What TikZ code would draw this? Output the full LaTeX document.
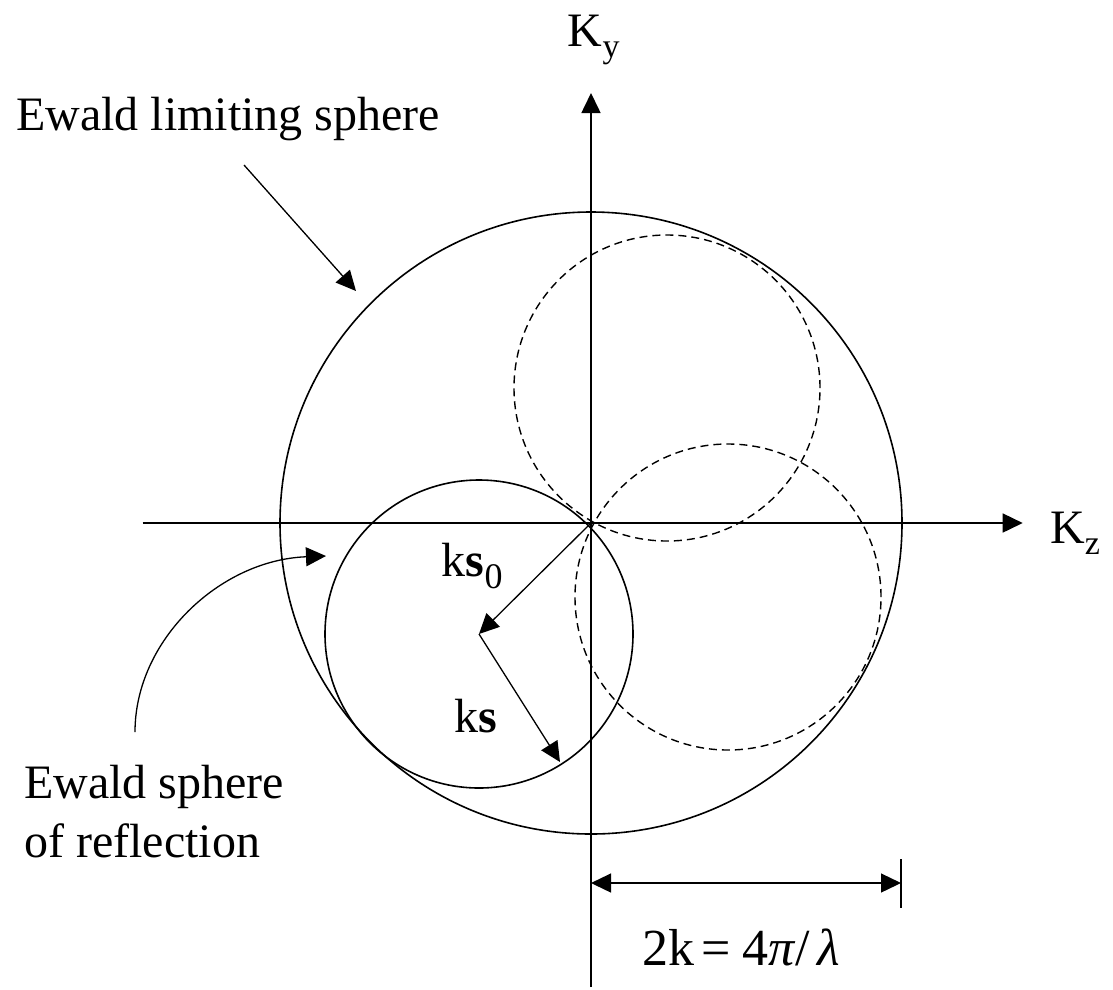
\documentclass[tikz,border=0pt]{standalone}
\usepackage{fontspec}
\setmainfont{Liberation Serif}
\usetikzlibrary{arrows.meta}
\begin{document}
\begin{tikzpicture}[x=1pt,y=-1pt,
  thick line/.style={line width=1.6pt},
  thin line/.style={line width=1.3pt},
  dashcircle/.style={line width=1.4pt, dash pattern=on 8pt off 5pt},
  headtip/.style={-{Triangle[length=20pt,width=19pt]}},
  bothtips/.style={{Triangle[length=20pt,width=19pt]}-{Triangle[length=20pt,width=19pt]}},
  lbl/.style={font=\fontsize{48}{58}\selectfont, inner sep=0pt, anchor=base west}]
\useasboundingbox (0,0) rectangle (1113,989);
% axes
\coordinate (O) at (591,523);
\coordinate (zl) at (142.7,523);
\coordinate (zr) at (1022.7,523);
\coordinate (yb) at (591,987);
\coordinate (yt) at (591,93);
\draw[thick line, headtip] (zl) -- (zr);
\draw[thick line, headtip] (yb) -- (yt);
% circles
\draw[thick line] (O) circle[radius=311pt];
\coordinate (C) at (479,634);
\draw[thick line] (C) circle[radius=154pt];
\coordinate (D1) at (667,388);
\coordinate (D2) at (728,597);
\draw[dashcircle] (D1) circle[radius=153pt];
\draw[dashcircle] (D2) circle[radius=153pt];
% wave vectors
\coordinate (S) at (560,762);
\draw[thin line, headtip] (O) -- (C);
\draw[thin line, headtip] (C) -- (S);
% labels
\node[lbl] (ky) at (567.7,46.7) {K\raisebox{-11pt}{\fontsize{34}{34}\selectfont y}};
\node[lbl] (kz) at (1050,543) {K\raisebox{-11pt}{\fontsize{34}{34}\selectfont z}};
\node[lbl] (ks0) at (441.7,576.7) {k\textbf{s}\raisebox{-12pt}{\fontsize{36}{36}\selectfont 0}};
\node[lbl] (ks) at (454,732) {k\textbf{s}};
\node[lbl] (lim) at (16,130) {Ewald limiting sphere};
\node[lbl] (ref1) at (24,798) {Ewald sphere};
\node[lbl] (ref2) at (24,857) {of reflection};
\node[lbl, font=\fontsize{52}{60}\selectfont] (dim) at (642,965) {2k\kern7pt=\kern12pt4\textit{π}/\kern7pt\textit{λ}};
% pointer arrows
\coordinate (limA) at (244,165);
\coordinate (limB) at (356,291);
\draw[thin line, headtip] (limA) -- (limB);
\coordinate (refA) at (135,732);
\coordinate (refB) at (326,556);
\draw[thin line, headtip] (refA) .. controls (135,640) and (220,560) .. (refB);
% dimension
\coordinate (dimL) at (591,883);
\coordinate (dimR) at (901,883);
\coordinate (tickT) at (901,859);
\coordinate (tickB) at (901,908);
\draw[thin line, bothtips] (dimL) -- (dimR);
\draw[thin line] (tickT) -- (tickB);
\end{tikzpicture}
\end{document}
